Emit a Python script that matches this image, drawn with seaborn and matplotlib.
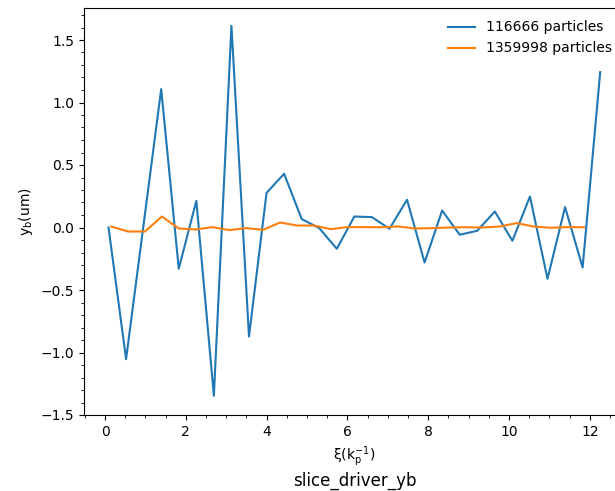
import numpy as np
import pandas as pd
import matplotlib
matplotlib.use("Agg")
import matplotlib.pyplot as plt
import seaborn as sns

# ---- data ----
xi_116666 = [0.087 + i * 0.4346 for i in range(29)]
yb_116666 = [0.0, -1.053, 0.027, 1.107, -0.33, 0.213, -1.346, 1.614, -0.872,
             0.277, 0.43, 0.068, -0.005, -0.17, 0.088, 0.083, -0.01, 0.222,
             -0.28, 0.136, -0.058, -0.026, 0.128, -0.106, 0.248, -0.41, 0.163,
             -0.32, 1.243]
xi_1359998 = [0.153 + i * 0.418 for i in range(29)]
yb_1359998 = [0.008, -0.032, -0.032, 0.088, -0.008, -0.016, 0.003, -0.021,
              -0.005, -0.018, 0.04, 0.016, 0.016, -0.013, 0.003, 0.003, 0.002,
              0.008, -0.008, -0.005, 0.0, 0.002, 0.0, 0.008, 0.035, 0.008,
              -0.002, 0.003, 0.002]
labels = ["116666 particles", "1359998 particles"]

df = pd.concat([
    pd.DataFrame({"xi": xi_116666, "yb": yb_116666, "run": labels[0]}),
    pd.DataFrame({"xi": xi_1359998, "yb": yb_1359998, "run": labels[1]}),
], ignore_index=True)

fig = plt.figure(figsize=(6.15, 4.91), dpi=100)
ax = fig.add_axes([84 / 615, 76 / 491, 541 / 615, 407 / 491])

sns.lineplot(data=df, x="xi", y="yb", hue="run", palette=["#1f77b4", "#ff7f0e"],
             ax=ax, linewidth=1.5, sort=False)

ax.set_xlim(-0.52, 12.87)
ax.set_ylim(-1.5, 1.756)
ax.minorticks_on()
ax.spines["right"].set_visible(False)
ax.set_xlabel(r"$\mathregular{\xi(k_p^{-1})}$", fontsize=10)
ax.set_ylabel(r"$\mathregular{y_b}$(um)", fontsize=10)
ax.legend(loc="upper right", frameon=False, fontsize=10)
ax.text(0.5, -0.14, "slice_driver_yb", transform=ax.transAxes,
        ha="center", va="top", fontsize=12)

fig.savefig("out.png", dpi=100)
